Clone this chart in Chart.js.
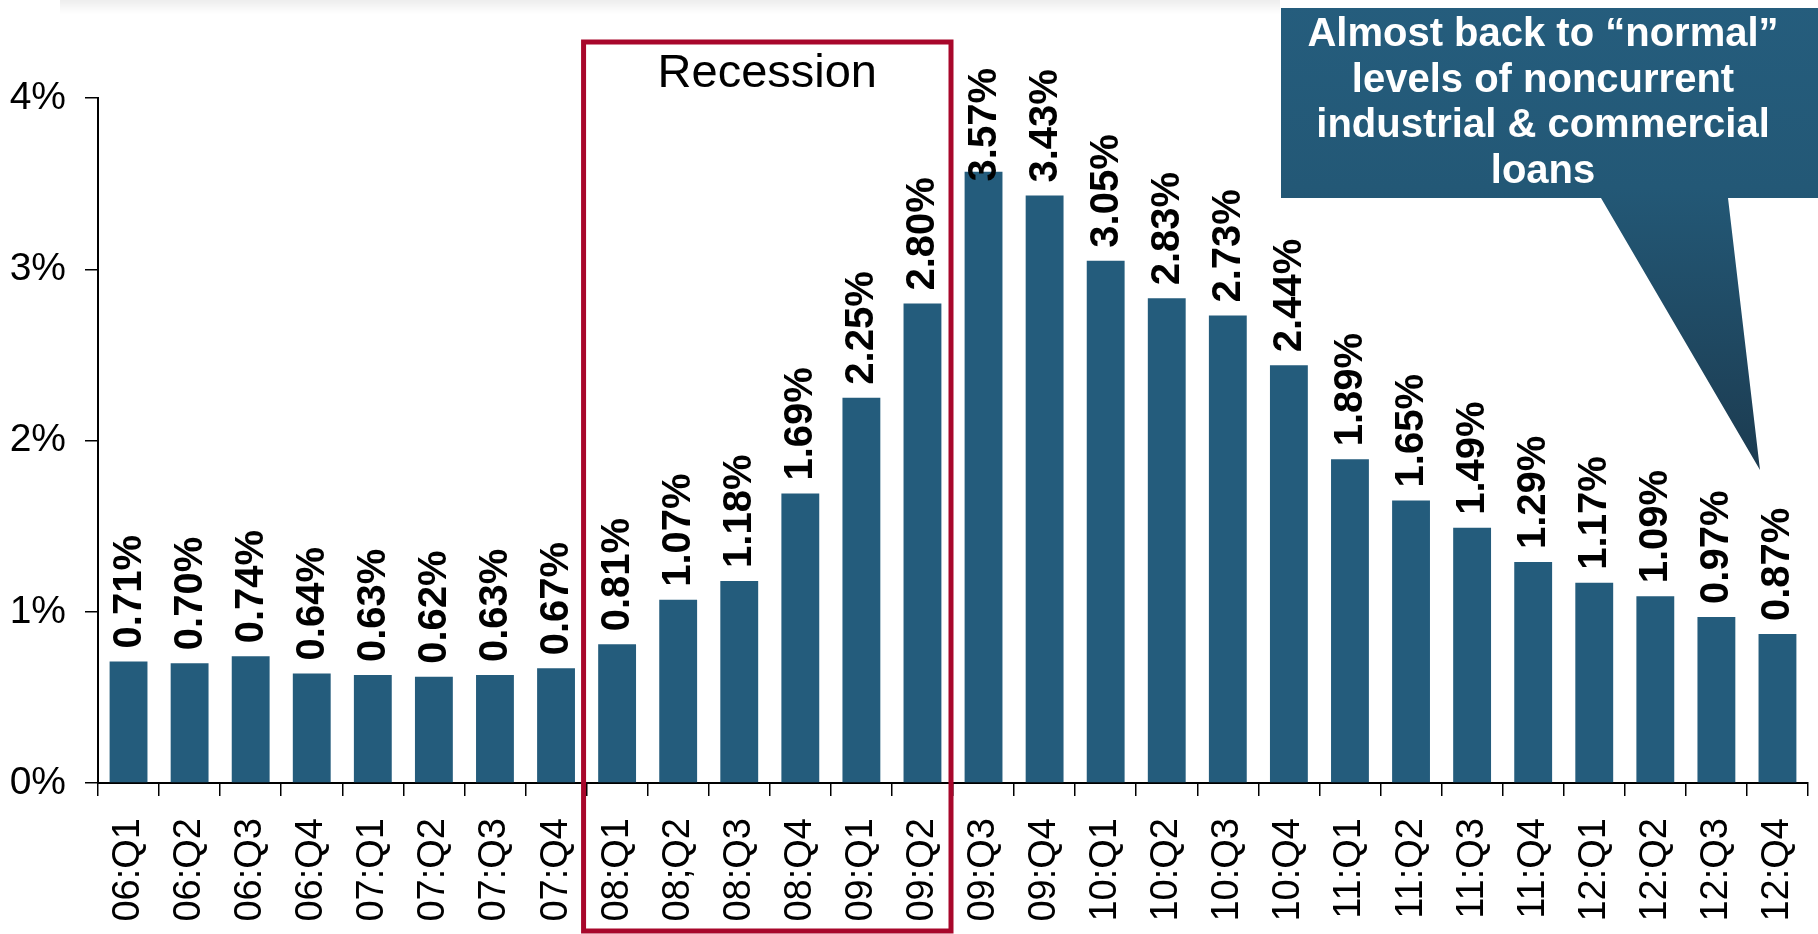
<!DOCTYPE html>
<html>
<head>
<meta charset="utf-8">
<script src="https://cdn.jsdelivr.net/npm/chart.js@4"></script>
<style>
  body { margin: 0; background: #fff; }
  canvas { display: block; }
</style>
</head>
<body>
<canvas id="chart" width="1818" height="934"></canvas>
<script>
// quarters (note the original "08;Q2" typo)
var quarters = ['06:Q1', '06:Q2', '06:Q3', '06:Q4', '07:Q1', '07:Q2', '07:Q3', '07:Q4',
  '08:Q1', '08;Q2', '08:Q3', '08:Q4', '09:Q1', '09:Q2', '09:Q3', '09:Q4',
  '10:Q1', '10:Q2', '10:Q3', '10:Q4', '11:Q1', '11:Q2', '11:Q3', '11:Q4',
  '12:Q1', '12:Q2', '12:Q3', '12:Q4'];

// noncurrent C&I loans, percent
var noncurrent = [0.71, 0.70, 0.74, 0.64, 0.63, 0.62, 0.63, 0.67,
  0.81, 1.07, 1.18, 1.69, 2.25, 2.80, 3.57, 3.43,
  3.05, 2.83, 2.73, 2.44, 1.89, 1.65, 1.49, 1.29,
  1.17, 1.09, 0.97, 0.87];

var yTicks = ['0%', '1%', '2%', '3%', '4%'];

var recessionFrom = '08:Q1';
var recessionTo = '09:Q2';
var recessionText = 'Recession';

var calloutLines = ['Almost back to \u201cnormal\u201d', 'levels of noncurrent',
  'industrial & commercial', 'loans'];

var FONT = "'Liberation Sans', Arial, sans-serif";

// value labels, rotated, sitting on top of each bar
var barLabels = {
  id: 'barLabels',
  afterDatasetsDraw: function(chart) {
    var ctx = chart.ctx;
    var meta = chart.getDatasetMeta(0);
    ctx.save();
    ctx.font = 'bold 40px ' + FONT;
    ctx.fillStyle = '#000';
    ctx.textAlign = 'left';
    ctx.textBaseline = 'middle';
    meta.data.forEach(function(bar, i) {
      var txt = noncurrent[i].toFixed(2) + '%';
      var w = ctx.measureText(txt).width;
      var start = Math.max(bar.y - 13, 68 + w);
      ctx.save();
      ctx.translate(bar.x + 1, start);
      ctx.rotate(-Math.PI / 2);
      ctx.fillText(txt, 0, 0);
      ctx.restore();
    });
    ctx.restore();
  }
};

// recession box and the callout
var extras = {
  id: 'extras',
  afterDraw: function(chart) {
    var ctx = chart.ctx;
    var x = chart.scales.x;
    var step = x.getPixelForValue(1) - x.getPixelForValue(0);
    var left = x.getPixelForValue(quarters.indexOf(recessionFrom)) - step / 2 - 3;
    var right = x.getPixelForValue(quarters.indexOf(recessionTo)) + step / 2 - 2;

    ctx.save();
    // faint shadow along the top edge
    var sh = ctx.createLinearGradient(0, 0, 0, 14);
    sh.addColorStop(0, 'rgba(0,0,0,0.07)');
    sh.addColorStop(1, 'rgba(0,0,0,0)');
    ctx.fillStyle = sh;
    ctx.fillRect(60, 0, 1220, 14);

    ctx.strokeStyle = '#A8072B';
    ctx.lineWidth = 5;
    ctx.strokeRect(left, 42, right - left, 889);
    ctx.fillStyle = '#000';
    ctx.font = '47px ' + FONT;
    ctx.textAlign = 'center';
    ctx.textBaseline = 'middle';
    ctx.fillText(recessionText, (left + right) / 2, 74);

    // callout
    var g = ctx.createLinearGradient(0, 0, 0, 470);
    g.addColorStop(0, '#255D7D');
    g.addColorStop(0.4, '#235876');
    g.addColorStop(1, '#1C3B50');
    ctx.fillStyle = g;
    ctx.beginPath();
    ctx.moveTo(1281, 8);
    ctx.lineTo(1818, 8);
    ctx.lineTo(1818, 198);
    ctx.lineTo(1728, 198);
    ctx.lineTo(1760, 470);
    ctx.lineTo(1601, 198);
    ctx.lineTo(1281, 198);
    ctx.closePath();
    ctx.fill();

    ctx.fillStyle = '#fff';
    ctx.font = 'bold 40px ' + FONT;
    calloutLines.forEach(function(line, i) {
      ctx.fillText(line, 1543, 35 + i * 45.5);
    });
    ctx.restore();
  }
};

new Chart(document.getElementById('chart'), {
  type: 'bar',
  data: {
    labels: quarters,
    datasets: [{
      data: noncurrent,
      backgroundColor: '#245C7C',
      barPercentage: 0.62,
      categoryPercentage: 1
    }]
  },
  options: {
    responsive: false,
    animation: false,
    devicePixelRatio: 1,
    layout: { padding: { top: 98, right: 10, left: 0, bottom: 0 } },
    plugins: {
      legend: { display: false },
      tooltip: { enabled: false }
    },
    scales: {
      x: {
        grid: { drawOnChartArea: false, drawTicks: true, tickLength: 13, color: '#000', lineWidth: 1.5 },
        border: { color: '#000', width: 2 },
        ticks: {
          color: '#000',
          font: { family: FONT, size: 38 },
          minRotation: 90,
          maxRotation: 90,
          autoSkip: false,
          padding: 22
        },
        afterFit: function(s) {
          s.height = 151;
          s.paddingLeft = 0;
          s.paddingRight = 0;
        }
      },
      y: {
        min: 0,
        max: 4,
        grid: { drawOnChartArea: false, drawTicks: true, tickLength: 13, color: '#000', lineWidth: 1.5 },
        border: { color: '#000', width: 2 },
        ticks: {
          stepSize: 1,
          color: '#000',
          font: { family: FONT, size: 39 },
          padding: 19,
          callback: function(v, i) { return yTicks[i]; }
        },
        afterFit: function(s) { s.width = 98; }
      }
    }
  },
  plugins: [barLabels, extras]
});
</script>
</body>
</html>
